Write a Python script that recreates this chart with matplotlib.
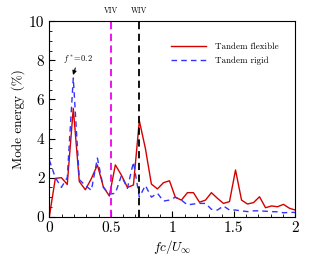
import matplotlib
matplotlib.use("Agg")
import matplotlib.pyplot as plt
from matplotlib.ticker import MultipleLocator, FuncFormatter

plt.rcParams['font.family'] = ['cmr10', 'DejaVu Serif']
plt.rcParams['mathtext.fontset'] = 'cm'
plt.rcParams['axes.formatter.use_mathtext'] = True

freq = [0.0, 0.049, 0.098, 0.146, 0.195, 0.244, 0.293, 0.342, 0.391, 0.439,
        0.488, 0.537, 0.586, 0.635, 0.684, 0.732, 0.781, 0.830, 0.879, 0.928,
        0.977, 1.025, 1.074, 1.123, 1.172, 1.221, 1.270, 1.318, 1.367, 1.416,
        1.465, 1.514, 1.563, 1.611, 1.660, 1.709, 1.758, 1.807, 1.855, 1.904,
        1.953, 2.0]
flexible = [0.0, 1.96, 2.0, 1.65, 5.55, 1.8, 1.38, 1.95, 2.65, 1.54,
            1.06, 2.65, 2.13, 1.5, 1.62, 4.91, 3.5, 1.67, 1.42, 1.74,
            1.84, 0.99, 0.85, 1.23, 1.23, 0.74, 0.85, 1.23, 0.94, 0.68,
            0.77, 2.39, 0.85, 0.65, 0.72, 1.02, 0.46, 0.55, 0.51, 0.63,
            0.43, 0.34]
rigid = [2.9, 2.0, 1.5, 2.0, 7.1, 1.9, 1.6, 1.35, 3.0, 1.5,
         1.15, 1.2, 2.1, 1.45, 2.8, 1.0, 1.6, 1.0, 1.2, 0.8,
         0.85, 1.0, 0.85, 0.6, 0.65, 0.68, 0.68, 0.38, 0.34, 0.55,
         0.34, 0.34, 0.3, 0.26, 0.3, 0.3, 0.28, 0.26, 0.25, 0.2,
         0.22, 0.22]
viv_f = 0.5
wiv_f = 0.733

fig = plt.figure(figsize=(3.29, 2.56), dpi=100)
ax = fig.add_axes([49.3/329, 1 - 216.7/256, 246/329, 195.4/256])

ax.plot(freq, flexible, color='#d40000', lw=1.0, label='Tandem flexible')
ax.plot(freq, rigid, color='#3333ff', lw=1.0, ls=(0, (4, 3)), label='Tandem rigid')
ax.axvline(viv_f, color='#ee00ee', lw=1.3, ls=(0, (4, 2.5)))
ax.axvline(wiv_f, color='black', lw=1.3, ls=(0, (4, 2.5)))

ax.set_xlim(0, 2)
ax.set_ylim(0, 10)
ax.xaxis.set_major_locator(MultipleLocator(0.5))
ax.xaxis.set_minor_locator(MultipleLocator(0.1))
ax.yaxis.set_major_locator(MultipleLocator(2))
ax.yaxis.set_minor_locator(MultipleLocator(0.5))
ax.tick_params(which='both', direction='in', top=False, right=False, labelsize=11)
ax.tick_params(which='major', length=4)
ax.tick_params(which='minor', length=2)
ax.xaxis.set_major_formatter(FuncFormatter(lambda v, p: '%g' % v))
ax.yaxis.set_major_formatter(FuncFormatter(lambda v, p: '%g' % v))

ax.set_xlabel(r'$fc/U_\infty$', fontsize=9.5, labelpad=2)
ax.set_ylabel('Mode energy (%)', fontsize=9.5, labelpad=3)

ax.text(viv_f, 10.3, 'VIV', ha='center', va='bottom', fontsize=5.5)
ax.text(wiv_f, 10.3, 'WIV', ha='center', va='bottom', fontsize=5.5)

ax.annotate(r'$f^*\!=\!0.2$', xy=(0.193, 7.25), xytext=(0.235, 7.75),
            fontsize=6, ha='center', va='bottom',
            arrowprops=dict(arrowstyle='-|>', color='black', lw=0.8,
                            mutation_scale=6, shrinkA=0, shrinkB=0))

leg = ax.legend(loc='upper left', bbox_to_anchor=(0.495, 0.89), frameon=False,
                borderaxespad=0, borderpad=0,
                fontsize=6.5, handlelength=3.9, handletextpad=1.0, labelspacing=0.65)

fig.savefig('out.png', dpi=100)
